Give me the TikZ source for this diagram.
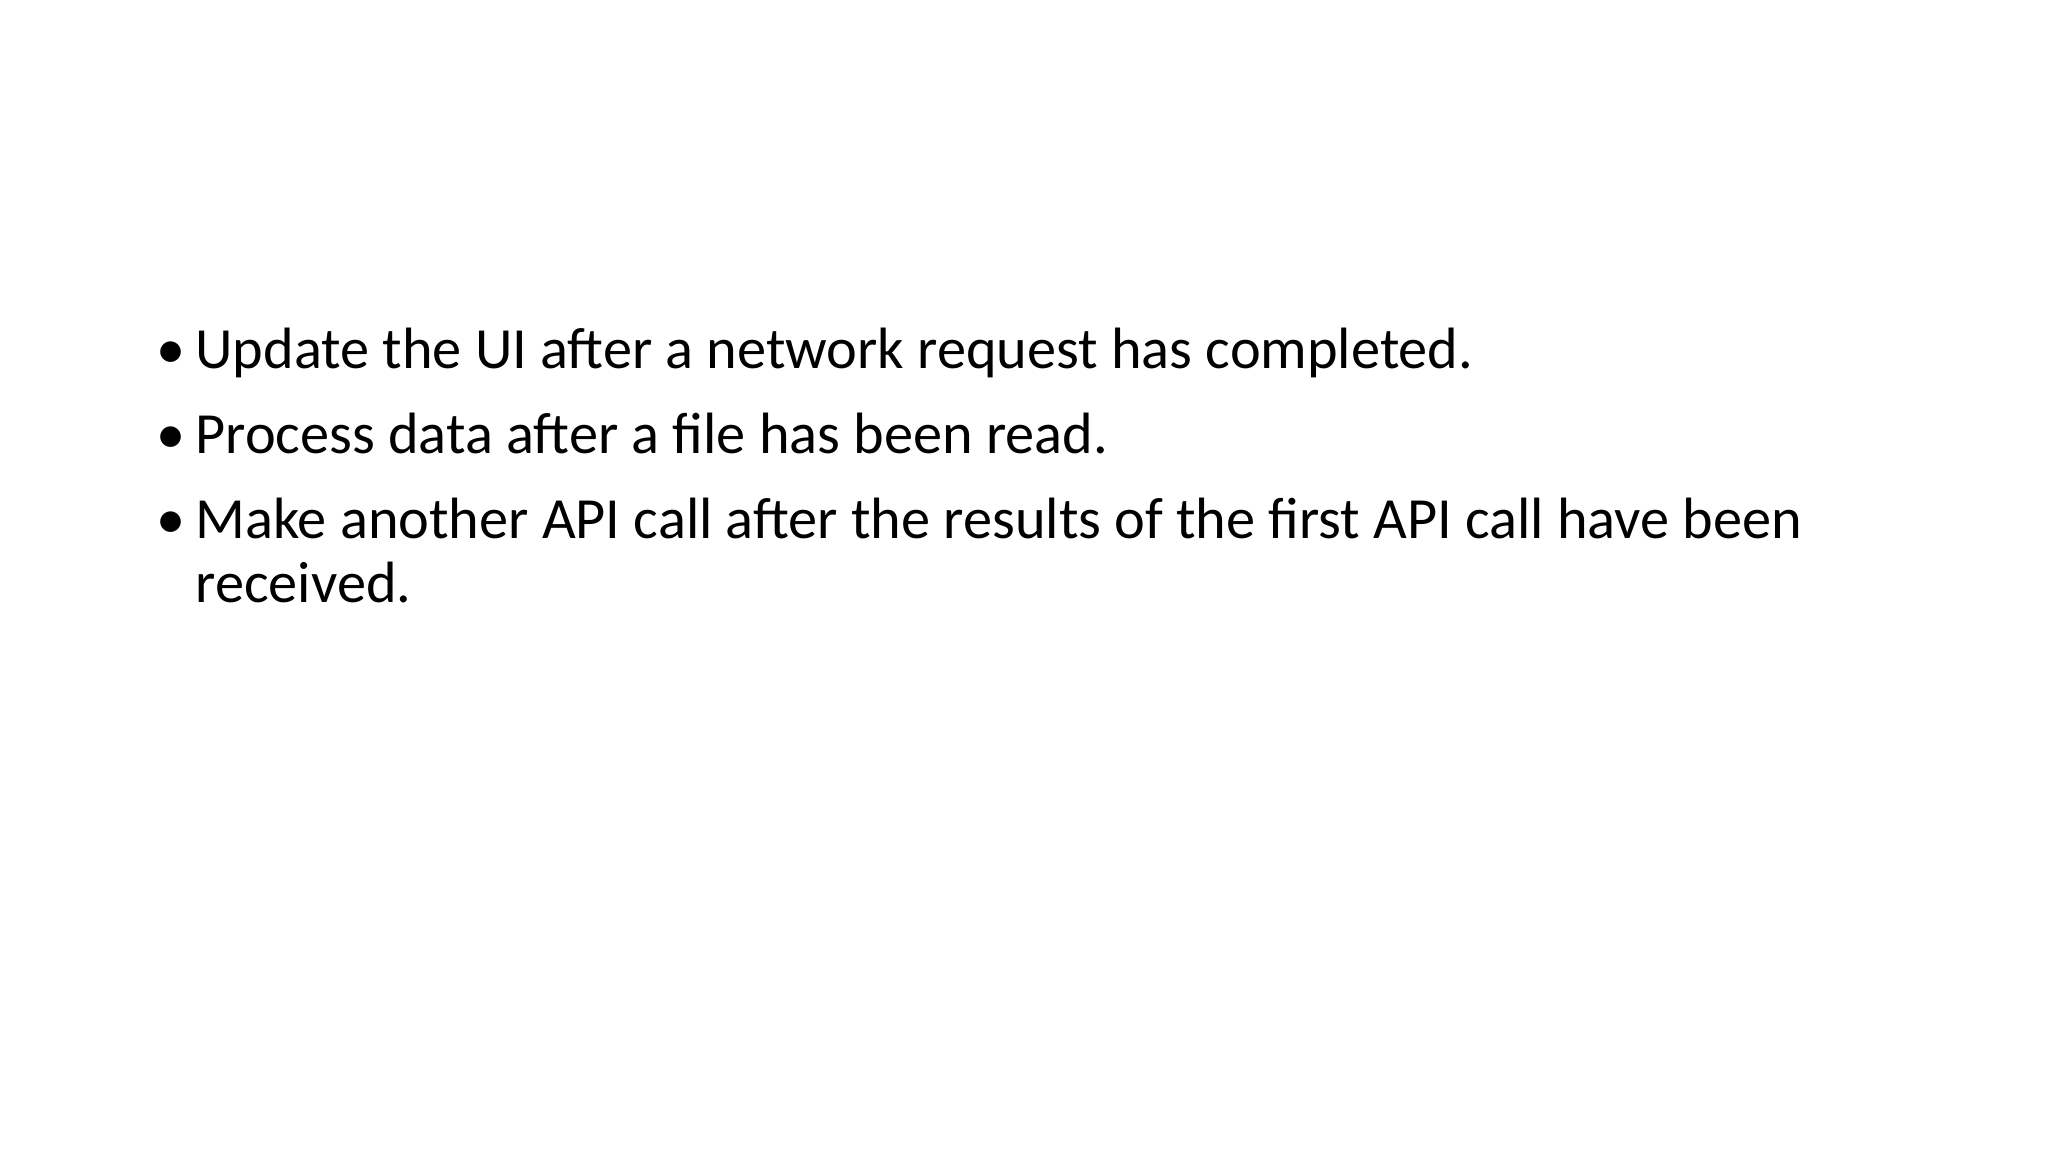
\documentclass[tikz,border=0pt]{standalone}
\usepackage{fontspec}
\setmainfont{Carlito}
\begin{document}
\begin{tikzpicture}[x=1mm,y=1mm,
  itm/.style={anchor=base west,inner sep=0pt,font=\fontsize{12.7pt}{13.9pt}\selectfont},
  blt/.style={anchor=base west,inner sep=0pt,font=\fontsize{12.7pt}{13.9pt}\selectfont}]
\useasboundingbox (0,0) rectangle (156.8,88.2);
\node[blt] (b1) at (11.9,60.0) {•};
\node[itm] (t1) at (14.9,60.0) {Update the UI after a network request has completed.};
\node[blt] (b2) at (11.9,53.5) {•};
\node[itm] (t2) at (14.9,53.5) {Process data after a file has been read.};
\node[blt] (b3) at (11.9,47.0) {•};
\node[itm] (t3) at (14.9,47.0) {Make another API call after the results of the first API call have been};
\node[itm] (t4) at (14.9,42.1) {received.};
\end{tikzpicture}
\end{document}
